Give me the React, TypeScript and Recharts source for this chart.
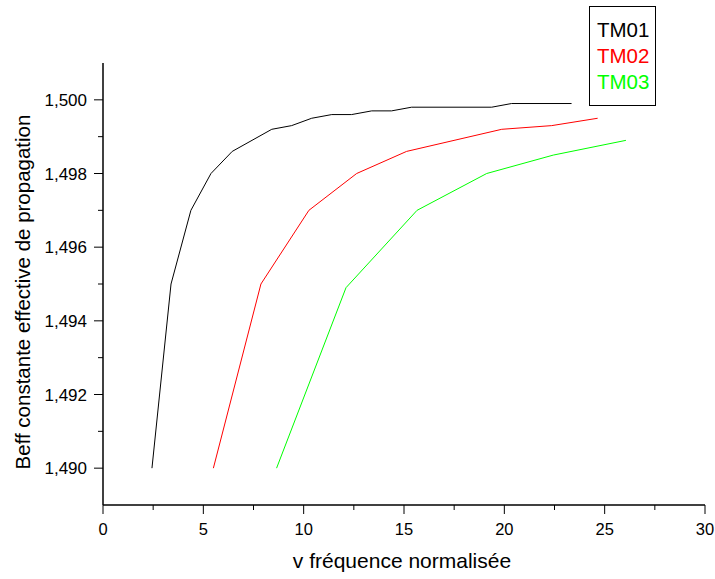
import { LineChart, Line, XAxis, YAxis } from "recharts";

const tm01X = [2.44, 3.39, 4.38, 5.38, 6.44, 8.41, 9.4, 10.4, 11.4, 12.39, 13.39, 14.38, 15.38, 19.37, 20.36, 23.35];
const tm01Y = [1.49, 1.495, 1.497, 1.498, 1.4986, 1.4992, 1.4993, 1.4995, 1.4996, 1.4996, 1.4997, 1.4997, 1.4998, 1.4998, 1.4999, 1.4999];

const tm02X = [5.5, 7.87, 10.26, 12.64, 15.13, 19.87, 22.36, 24.65];
const tm02Y = [1.49, 1.495, 1.497, 1.498, 1.4986, 1.4992, 1.4993, 1.4995];

const tm03X = [8.65, 12.11, 15.65, 19.12, 22.44, 26.06];
const tm03Y = [1.49, 1.4949, 1.497, 1.498, 1.4985, 1.4989];

const xTicks = [0, 2.5, 5, 7.5, 10, 12.5, 15, 17.5, 20, 22.5, 25, 27.5, 30];
const yTicks = [1.489, 1.49, 1.491, 1.492, 1.493, 1.494, 1.495, 1.496, 1.497, 1.498, 1.499, 1.5, 1.501];

const toPoints = (xs: number[], ys: number[]) => xs.map((x, i) => ({ x, y: ys[i] }));

const series = [
  { name: "TM01", color: "#000000", data: toPoints(tm01X, tm01Y) },
  { name: "TM02", color: "#ff0000", data: toPoints(tm02X, tm02Y) },
  { name: "TM03", color: "#00ff00", data: toPoints(tm03X, tm03Y) },
];

const font = "'Liberation Sans', Arial, sans-serif";

function XTick(props: any) {
  const { x, y, payload } = props;
  const v = payload.value as number;
  const major = v % 5 === 0;
  return (
    <g>
      <line x1={x} x2={x} y1={y} y2={y + (major ? 9 : 5)} stroke="#000" strokeWidth={1} />
      {major && (
        <text x={x} y={y + 30} textAnchor="middle" fontSize={16.5} fontFamily={font} fill="#000">
          {v}
        </text>
      )}
    </g>
  );
}

function YTick(props: any) {
  const { x, y, payload } = props;
  const v = payload.value as number;
  const k = Math.round(v * 1000);
  if (k === 1489 || k === 1501) return <g />;
  const major = k % 2 === 0;
  return (
    <g>
      <line x1={x - (major ? 9 : 5)} x2={x} y1={y} y2={y} stroke="#000" strokeWidth={1} />
      {major && (
        <text x={x - 16} y={y + 6} textAnchor="end" fontSize={17} fontFamily={font} fill="#000">
          {v.toFixed(3).replace(".", ",")}
        </text>
      )}
    </g>
  );
}

export default function App() {
  return (
    <div style={{ position: "absolute", left: 0, top: 0, width: 715, height: 579, background: "#fff" }}>
      <LineChart width={715} height={579} margin={{ top: 63, right: 10, left: 43, bottom: 34 }}>
        <XAxis
          type="number"
          dataKey="x"
          domain={[0, 30]}
          ticks={xTicks}
          interval={0}
          allowDataOverflow
          height={40}
          tickSize={0}
          tickMargin={0}
          tickLine={false}
          tick={<XTick />}
          axisLine={{ stroke: "#000", strokeWidth: 1.5 }}
        />
        <YAxis
          type="number"
          dataKey="y"
          domain={[1.489, 1.501]}
          ticks={yTicks}
          interval={0}
          allowDataOverflow
          width={60}
          tickSize={0}
          tickMargin={0}
          tickLine={false}
          tick={<YTick />}
          axisLine={{ stroke: "#000", strokeWidth: 1.5 }}
        />
        {series.map((s) => (
          <Line
            key={s.name}
            data={s.data}
            dataKey="y"
            name={s.name}
            type="linear"
            stroke={s.color}
            strokeWidth={1}
            dot={false}
            activeDot={false}
            isAnimationActive={false}
          />
        ))}
      </LineChart>
      <div
        style={{
          position: "absolute",
          left: 23 - 200,
          top: 292 - 12,
          width: 400,
          height: 24,
          lineHeight: "24px",
          textAlign: "center",
          whiteSpace: "nowrap",
          fontFamily: font,
          fontSize: 20.5,
          color: "#000",
          transform: "rotate(-90deg)",
          transformOrigin: "50% 50%",
        }}
      >
        Beff constante effective de propagation
      </div>
      <svg
        width={715}
        height={579}
        style={{ position: "absolute", left: 0, top: 0, pointerEvents: "none" }}
      >
        <text x={402} y={568} textAnchor="middle" fontSize={21} fontFamily={font} fill="#000">
          v fréquence normalisée
        </text>
        <rect x={589.5} y={6.5} width={66} height={99} fill="#fff" stroke="#000" strokeWidth={1} />
        {series.map((s, i) => (
          <text key={s.name} x={597} y={37 + i * 26} fontSize={20.5} fontFamily={font} fill={s.color}>
            {s.name}
          </text>
        ))}
      </svg>
    </div>
  );
}
